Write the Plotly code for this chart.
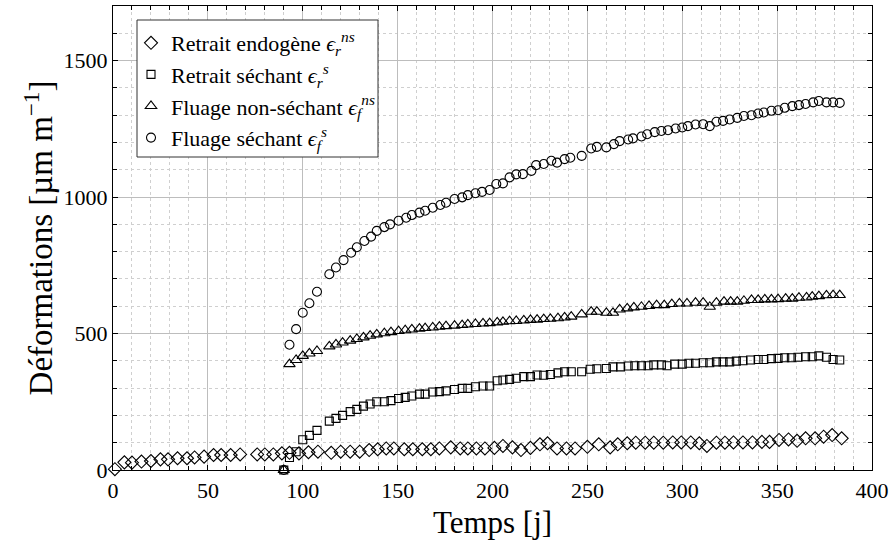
import plotly.graph_objects as go

# Retrait endogene (diamonds)
endo_t = [1, 6, 10, 15, 20, 25, 29, 34, 39, 43, 48, 53, 57, 62, 67, 76, 80, 84.5, 89, 93,
          98, 103, 108, 115, 120, 125, 130, 135, 139.5, 144, 148, 153.5, 158, 163, 167.5, 172, 178, 183, 187, 191.5,
          196, 201, 205.5, 210.5, 215, 220, 225, 229, 234, 239, 243.5, 250, 256, 262, 266, 271, 275.5, 280.5, 285, 290,
          295, 299.5, 304.5, 309, 313, 318, 322.5, 327, 332, 337, 342, 346, 351, 356, 360.5, 365, 370, 374.5, 379, 384]
endo_eps = [3, 28, 27, 31, 33, 39, 39, 43, 43, 46, 49, 55, 55, 55, 57, 57, 57, 57, 61, 63,
            61, 65, 67, 63, 67, 67, 67, 73, 76, 79, 79, 76, 76, 76, 76, 79, 83, 79, 79, 79,
            79, 81, 88, 83, 73, 81, 94, 98, 79, 79, 79, 85, 94, 83, 94, 98, 100, 100, 100, 100,
            101, 101, 101, 98, 88, 100, 100, 101, 101, 101, 103, 103, 110, 112, 107, 116, 116, 122, 128, 116]

# Retrait sechant (squares)
sech_t = [90, 93, 96.5, 100, 103.5, 107.5, 114, 117.5, 121, 125, 128.5, 132, 135.5, 139, 143, 146.5, 150.5, 154, 157.5, 161.5,
          164.5, 168.5, 172, 175.5, 180, 184, 187, 191, 195, 198.5, 202.5, 205.5, 209, 212.5, 216.5, 220, 223.5, 227, 230.5, 234.5,
          238, 241.5, 247, 251.5, 255, 260, 263.5, 267.5, 271.5, 275, 278.5, 282, 285, 289, 292, 296, 300, 303.5, 307, 311,
          314.5, 318, 321.5, 325, 328.5, 332, 336, 340, 343, 347, 350.5, 354, 357.5, 361, 365, 368.5, 372, 376, 379.5, 383]
sech_eps = [0, 46, 67, 111, 127, 145, 179, 189, 200, 214, 222, 234, 242, 250, 250, 254, 262, 266, 271, 278,
            278, 286, 287, 290, 295, 299, 299, 305, 308, 308, 327, 330, 332, 336, 342, 342, 348, 347, 350, 356,
            360, 360, 360, 369, 371, 372, 378, 378, 381, 382, 382, 382, 385, 385, 382, 388, 388, 391, 391, 393,
            393, 396, 396, 396, 399, 400, 403, 405, 405, 408, 409, 411, 411, 413, 415, 415, 418, 413, 405, 403]

# Fluage non-sechant (triangles)
flns_t = [90, 93, 96.5, 100, 103.5, 107.5, 114, 117.5, 121, 125, 128.5, 132, 135.5, 139, 143, 146.5, 150.5, 154, 157.5, 161.5,
          164.5, 168.5, 172, 175.5, 180, 184, 187, 191, 195, 198.5, 202.5, 205.5, 209, 212.5, 216.5, 220, 223.5, 227, 230.5, 234.5,
          238, 241.5, 247, 252, 255, 260, 263.5, 267, 271, 274.5, 278.5, 282.5, 286.5, 290.5, 294.5, 298.5, 302.5, 307, 311, 314.5,
          318, 322, 325.5, 329, 332.5, 336.5, 340, 343.5, 347, 350.5, 354.5, 358, 361.5, 365.5, 368.5, 372, 376, 379.5, 383]
flns_eps = [0, 388, 403, 418, 427, 436, 453, 460, 467, 474, 480, 486, 492, 497, 501, 505, 509, 512, 515, 518,
            520, 522, 525, 527, 529, 531, 533, 535, 537, 538, 541, 543, 545, 546, 548, 550, 551, 553, 554, 556,
            559, 562, 570, 580, 580, 576, 576, 588, 592, 596, 598, 601, 604, 604, 608, 610, 610, 613, 613, 598,
            613, 617, 617, 617, 620, 623, 623, 625, 625, 626, 628, 628, 631, 632, 635, 637, 640, 641, 641]

# Fluage sechant (circles)
fls_t = [90, 93, 96.5, 100, 103.5, 107.5, 114, 117.5, 121.5, 125.5, 128.5, 132.5, 136, 139, 143, 146, 150.5, 154.5, 157.5, 161.5,
         164.5, 168.5, 172.5, 175.5, 180, 184, 187, 191, 194.5, 198.5, 202, 205.5, 209, 212.5, 216, 220.5, 223, 227, 231, 234,
         238, 241, 247, 252, 255, 260, 264, 267, 271.5, 274, 278.5, 281.5, 285.5, 289, 292.5, 296.5, 300, 303, 307, 311,
         314.5, 318, 321.5, 325, 329, 332.5, 336.5, 340, 343, 347, 350.5, 354, 358, 361.5, 365, 369, 372, 376, 379.5, 383]
fls_eps = [0, 459, 516, 576, 611, 653, 717, 742, 769, 796, 816, 839, 855, 876, 890, 900, 913, 924, 934, 943,
           950, 961, 971, 979, 993, 999, 1007, 1014, 1019, 1026, 1048, 1050, 1072, 1083, 1084, 1096, 1117, 1121, 1133, 1126,
           1139, 1144, 1151, 1178, 1184, 1182, 1194, 1205, 1211, 1215, 1222, 1230, 1238, 1242, 1245, 1251, 1255, 1260, 1266, 1267,
           1260, 1276, 1279, 1284, 1290, 1297, 1300, 1306, 1310, 1316, 1318, 1327, 1333, 1337, 1341, 1347, 1352, 1347, 1347, 1345]

FONT = "Liberation Serif"

fig = go.Figure()

series = [
    (endo_t, endo_eps, "diamond-open", 10, "Retrait endogène <i>ϵ</i><sub><i>r</i></sub><sup><i>ns</i></sup>"),
    (sech_t, sech_eps, "square-open", 8, "Retrait séchant <i>ϵ</i><sub><i>r</i></sub><sup><i>s</i></sup>"),
    (flns_t, flns_eps, "triangle-up-open", 10, "Fluage non-séchant <i>ϵ</i><sub><i>f</i></sub><sup><i>ns</i></sup>"),
    (fls_t, fls_eps, "circle-open", 9, "Fluage séchant <i>ϵ</i><sub><i>f</i></sub><sup><i>s</i></sup>"),
]
for t, eps, sym, sz, name in series:
    fig.add_trace(go.Scatter(
        x=t, y=eps, mode="markers", name=name, cliponaxis=False,
        marker=dict(symbol=sym, size=sz, color="black", line=dict(color="black", width=1.1)),
    ))

axis_common = dict(
    showline=True, linecolor="black", linewidth=1.3, mirror="allticks",
    ticks="inside", ticklen=5, tickcolor="black",
    showgrid=True, gridcolor="#bdbdbd", gridwidth=1,
    zeroline=False, automargin=False,
    tickfont=dict(family=FONT, size=22, color="black"),
)

fig.update_xaxes(
    range=[0, 400], dtick=50,
    minor=dict(dtick=10, ticks="inside", ticklen=4, tickcolor="black",
               showgrid=True, gridcolor="#cfcfcf", griddash="dot", gridwidth=1),
    title=dict(text="Temps [j]", font=dict(family=FONT, size=31, color="black"), standoff=9),
    **axis_common,
)
fig.update_yaxes(
    range=[0, 1700], dtick=500,
    minor=dict(dtick=100, ticks="inside", ticklen=4, tickcolor="black",
               showgrid=True, gridcolor="#cfcfcf", griddash="dot", gridwidth=1),
    title=dict(text="Déformations [µm m<sup>−1</sup>]", font=dict(family=FONT, size=33, color="black"), standoff=0),
    **axis_common,
)

# legend frame drawn as a shape so the entries can sit closer to its left edge
fig.add_shape(type="rect", xref="paper", yref="paper",
              x0=24 / 759, x1=265 / 759, y0=(464 - 151) / 464, y1=(464 - 14) / 464,
              fillcolor="white", line=dict(color="#333333", width=1), layer="above")

fig.update_layout(
    width=890, height=549,
    margin=dict(l=113, r=18, t=6, b=79),
    paper_bgcolor="white", plot_bgcolor="white",
    font=dict(family=FONT, color="black"),
    legend=dict(
        x=18 / 759, y=(464 - 16) / 464, xanchor="left", yanchor="top",
        bgcolor="rgba(0,0,0,0)", borderwidth=0,
        font=dict(family=FONT, size=22, color="black"),
        itemwidth=30, tracegroupgap=0,
    ),
    showlegend=True,
)

fig.write_html("out.html", config={"displayModeBar": False},
               post_script="document.body.style.margin='0px';")
